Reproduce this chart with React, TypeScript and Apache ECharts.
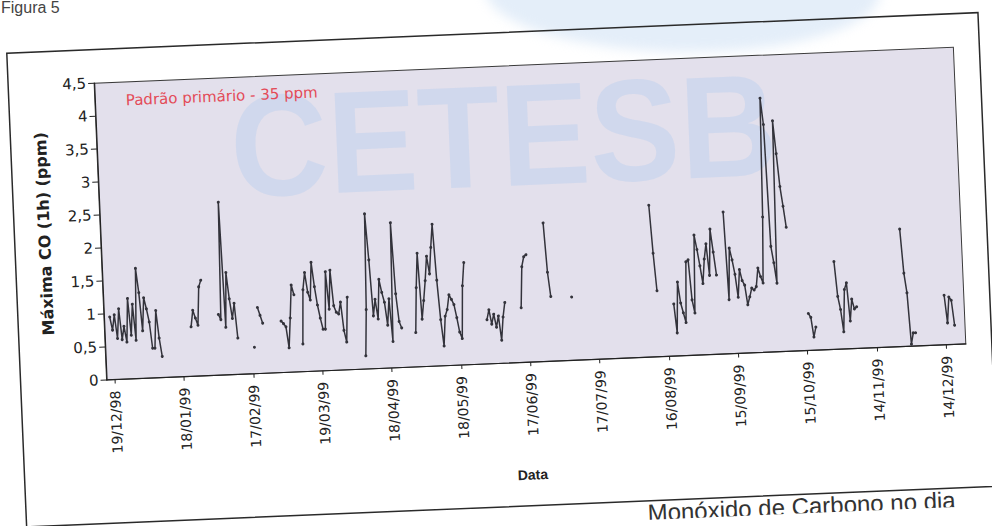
import React, { useEffect, useRef } from "react";
import * as echarts from "echarts";

// ---- axis / tick data ----
const startDate = Date.UTC(1998, 11, 16); // first category of the axis
const dayCount = 372;
const xTickLabels = [
  "19/12/98", "18/01/99", "17/02/99", "19/03/99", "18/04/99", "18/05/99", "17/06/99",
  "17/07/99", "16/08/99", "15/09/99", "15/10/99", "14/11/99", "14/12/99",
];
const yTicks = [0, 0.5, 1, 1.5, 2, 2.5, 3, 3.5, 4, 4.5];

// ---- measured series (daily maxima); each run starts at a day index, gaps = no data ----
const seg01 = [0.95, 0.75, 0.98, 0.62, 1.07, 0.6, 0.8, 0.56, 1.22, 0.66, 1.13, 0.58, 1.67, 1.3, 0.72, 1.22, 1.05, 0.85, 0.45, 0.45, 1.02, 0.6, 0.32];
const seg02 = [0.75, 1.0, 0.88, 0.77, 1.35, 1.45];
const seg03 = [0.92, 0.84, 2.62, 0.72, 1.55, 1.15, 0.85, 1.08, 0.55];
const seg04 = [0.4];
const seg05 = [1.0, 0.88, 0.76];
const seg06 = [0.78, 0.74, 0.69, 0.37, 0.82, 1.32, 1.17];
const seg07 = [0.42, 1.24, 1.5, 1.2, 1.08, 1.65, 1.28, 1.0, 0.8, 0.63, 0.63, 1.5, 0.93, 1.52, 0.98, 0.88, 0.85, 1.03, 0.6, 0.42, 1.1];
const seg08 = [0.2, 0.9, 2.35, 1.65, 0.8, 1.05, 0.75, 1.35, 1.15, 1.0, 0.65, 1.05, 0.4, 2.2, 1.12, 0.7, 0.6];
const seg09 = [0.52, 1.2, 1.72, 0.72, 1.0, 1.3, 1.67, 1.4, 1.8, 2.15, 1.3, 0.7, 0.3, 0.75, 0.85, 1.07, 1.0, 0.92, 0.72, 0.5, 0.4, 1.2, 1.55];
const seg10 = [0.67, 0.82, 0.6, 0.75, 0.55, 0.72, 0.35, 0.7, 0.92];
const seg11 = [0.83, 1.45, 1.6, 1.63];
const seg12 = [2.1, 1.35, 0.98];
const seg13 = [0.96];
const seg14 = [2.3, 1.57, 1.0];
const seg15 = [0.79, 0.35, 1.12, 0.8, 0.65, 0.5, 1.42, 1.45, 0.84, 0.64, 1.82, 1.6, 1.35, 1.08, 1.45, 1.68, 1.2, 1.9, 1.55, 1.2];
const seg16 = [2.15, 0.82, 1.6, 1.42, 1.2, 0.85, 1.27, 1.1, 1.03, 0.73, 0.85, 0.98, 0.95, 1.0, 1.28, 1.15, 1.05, 2.05, 3.85, 3.45, 1.6, 1.35, 1.04, 3.5, 3.0, 2.5, 2.2, 1.88];
const seg17 = [0.56, 0.5, 0.2, 0.35];
const seg18 = [1.33, 0.8, 0.6, 0.26, 0.9, 1.0, 0.42, 0.75, 0.6, 0.63];
const seg19 = [1.78, 1.11, 0.81, 0.03, 0.2, 0.2];
const seg20 = [0.75, 0.33, 0.72, 0.67, 0.29];

const segStarts = [2, 37, 49, 64, 66, 76, 85, 112, 134, 165, 180, 191, 202, 237, 246, 269, 304, 316, 345, 363];
const segValues = [seg01, seg02, seg03, seg04, seg05, seg06, seg07, seg08, seg09, seg10, seg11, seg12, seg13, seg14, seg15, seg16, seg17, seg18, seg19, seg20];

const pad = (n: number) => (n < 10 ? "0" + n : "" + n);
const dates: string[] = [];
for (let i = 0; i < dayCount; i++) {
  const d = new Date(startDate + i * 86400000);
  dates.push(pad(d.getUTCDate()) + "/" + pad(d.getUTCMonth() + 1) + "/" + pad(d.getUTCFullYear() % 100));
}
const values: (number | null)[] = dates.map(() => null);
segStarts.forEach((s, k) => {
  segValues[k].forEach((v, j) => {
    values[s + j] = v;
  });
});

const showTick = (index: number) => xTickLabels.indexOf(dates[index]) >= 0;

export default function App() {
  const ref = useRef<HTMLDivElement>(null);
  useEffect(() => {
    if (!ref.current) return;
    const chart = echarts.init(ref.current, undefined, { renderer: "svg" });
    chart.setOption({
      animation: false,
      grid: {
        left: 102, top: 66.5, width: 860, height: 297,
        show: true, backgroundColor: "#e3e0ec", borderColor: "#3a3a3a", borderWidth: 1,
      },
      xAxis: {
        type: "category",
        data: dates,
        boundaryGap: true,
        axisLine: { lineStyle: { color: "#222", width: 1.2 } },
        axisTick: { show: true, alignWithLabel: true, interval: showTick, length: 4, lineStyle: { color: "#222" } },
        axisLabel: {
          interval: showTick, rotate: 90, fontSize: 14, fontFamily: "DejaVu Sans", color: "#222", margin: 11,
        },
        splitLine: { show: false },
      },
      yAxis: {
        type: "value",
        min: yTicks[0],
        max: yTicks[yTicks.length - 1],
        interval: 0.5,
        axisLine: { show: true, lineStyle: { color: "#222", width: 1.2 } },
        axisTick: { show: true, length: 6, lineStyle: { color: "#222" } },
        axisLabel: {
          formatter: (v: number) => String(v).replace(".", ","),
          fontSize: 15, fontFamily: "DejaVu Sans", color: "#222", margin: 8,
        },
        splitLine: { show: false },
      },
      graphic: [
        {
          type: "text", z: 1, silent: true, x: 509, y: 136, scaleX: 0.93,
          style: {
            text: "CETESB", fontSize: 145, fontWeight: "bold", fontFamily: "Liberation Sans",
            fill: "rgba(160,196,242,0.27)", align: "center", verticalAlign: "middle",
          },
        },
        {
          type: "text", z: 5, x: 133, y: 85,
          style: { text: "Padrão primário - 35 ppm", fontSize: 15, fontFamily: "DejaVu Sans", fill: "#e34b58", align: "left", verticalAlign: "middle" },
        },
        {
          type: "text", z: 5, x: 46, y: 215, rotation: Math.PI / 2,
          style: { text: "Máxima CO (1h) (ppm)", fontSize: 16, fontWeight: "bold", fontFamily: "DejaVu Sans", fill: "#222", align: "center", verticalAlign: "middle" },
        },
        {
          type: "text", z: 5, x: 524, y: 476,
          style: { text: "Data", fontSize: 14, fontWeight: "bold", fontFamily: "Liberation Sans", fill: "#222", align: "center", verticalAlign: "middle" },
        },
        {
          type: "rect", z: 0, silent: true,
          shape: { x: 16, y: 33, width: 972, height: 474 },
          style: { fill: "none", stroke: "#2a2a2a", lineWidth: 1.5 },
        },
        {
          type: "text", z: 5, x: 637, y: 519,
          style: { text: "Monóxido de Carbono no dia", fontSize: 24, fontFamily: "Liberation Sans", fill: "#333", align: "left", verticalAlign: "middle" },
        },
      ],
      series: [
        {
          type: "line",
          data: values,
          connectNulls: false,
          showSymbol: true,
          showAllSymbol: true,
          symbol: "circle",
          symbolSize: 3,
          lineStyle: { color: "#33333b", width: 1.5 },
          itemStyle: { color: "#33333b" },
          z: 3,
        },
      ],
    });
    return () => chart.dispose();
  }, []);

  return (
    <div style={{ position: "absolute", left: 0, top: 0, width: 992, height: 526, overflow: "hidden", background: "#fff" }}>
      <div
        style={{
          position: "absolute", left: 485, top: -70, width: 395, height: 122,
          borderRadius: "0 0 48% 52%", background: "rgba(195,218,242,0.45)", filter: "blur(6px)",
        }}
      />
      <div
        style={{
          position: "absolute", left: 1, top: 0, fontFamily: "Liberation Sans", fontSize: 16,
          lineHeight: "16px", color: "#444",
        }}
      >
        Figura 5
      </div>
      <div
        style={{
          position: "absolute", left: 0, top: 0, width: 992, height: 526,
          transform: "rotate(-2.4deg)", transformOrigin: "496px 263px",
        }}
      >
        <div ref={ref} style={{ position: "absolute", left: 0, top: 0, width: 992, height: 526 }} />
      </div>
    </div>
  );
}
